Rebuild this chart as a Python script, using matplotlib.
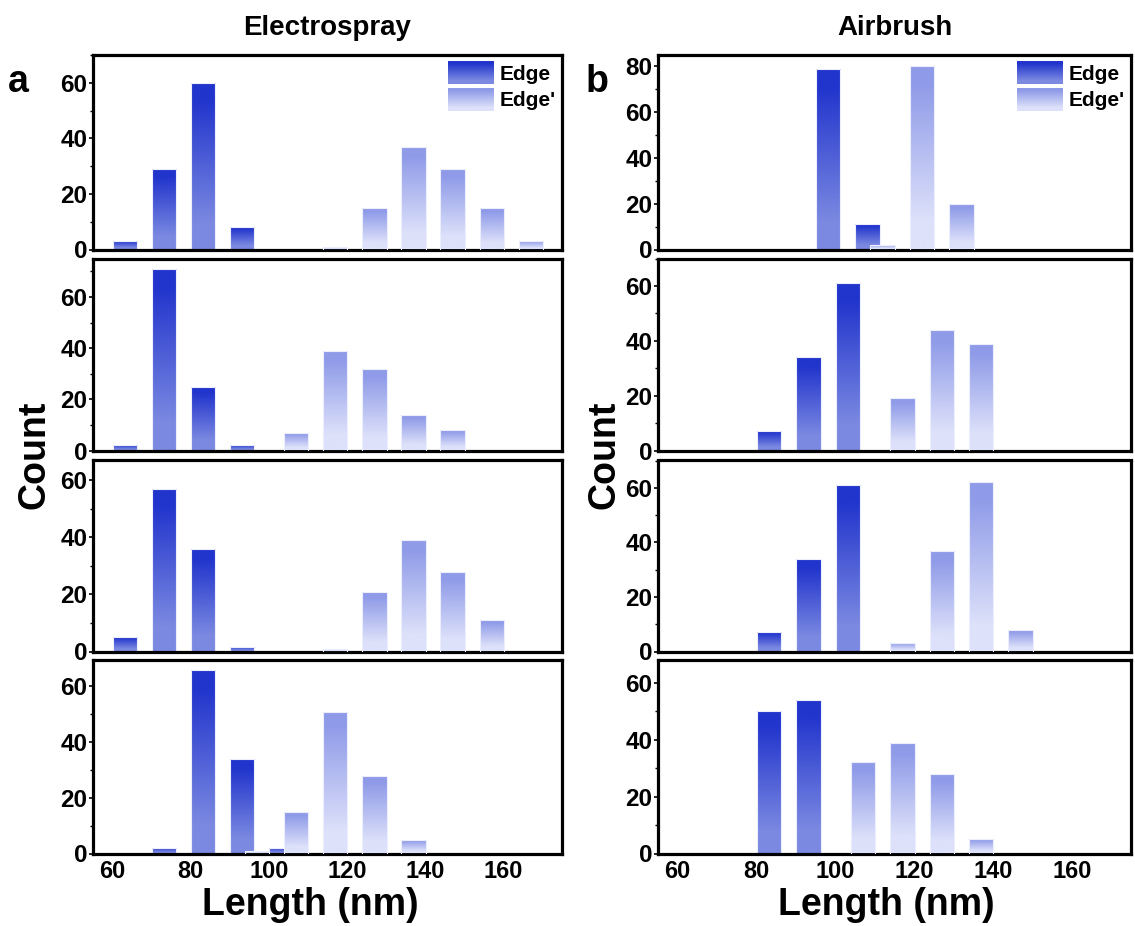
import numpy as np
import matplotlib
matplotlib.use("Agg")
import matplotlib.pyplot as plt
from matplotlib.legend_handler import HandlerBase
from matplotlib.image import BboxImage
from matplotlib.transforms import Bbox, TransformedBbox
from matplotlib.patches import Patch
from matplotlib.ticker import MultipleLocator
import matplotlib.colors as mcolors

plt.rcParams['font.family'] = ['Liberation Sans', 'DejaVu Sans']
plt.rcParams['font.weight'] = 'bold'

# ---- data (bin start in nm, counts) ----
# Electrospray (column a), top to bottom
es_edge_bins = [[60, 70, 80, 90], [60, 70, 80, 90], [60, 70, 80, 90], [70, 80, 90, 100]]
es_edge_vals = [[3, 29, 60, 8], [2, 71, 25, 2], [5, 57, 36, 1.5], [2, 66, 34, 2]]
es_edgep_bins = [[110, 120, 130, 140, 150, 160], [100, 110, 120, 130, 140],
                 [110, 120, 130, 140, 150], [90, 100, 110, 120, 130]]
es_edgep_vals = [[1, 15, 37, 29, 15, 3], [7, 39, 32, 14, 8],
                 [1, 21, 39, 28, 11], [1, 15, 51, 28, 5]]
es_ylim = [70, 75, 67, 69.5]

# Airbrush (column b), top to bottom
ab_edge_bins = [[95, 105], [80, 90, 100], [80, 90, 100], [80, 90]]
ab_edge_vals = [[79, 11], [7, 34, 61], [7, 34, 61], [50, 54]]
ab_edgep_bins = [[105, 115, 125], [110, 120, 130], [110, 120, 130, 140], [100, 110, 120, 130]]
ab_edgep_vals = [[2, 80, 20], [19, 44, 39], [3, 37, 62, 8], [32, 39, 28, 5]]
ab_ylim = [85, 70, 70, 68]

edge_cols = ('#2134cc', '#7b89e1')
edgep_cols = ('#8f9be8', '#dde1fa')
bar_w = 6.2
narrow = ['Liberation Sans Narrow', 'Liberation Sans', 'DejaVu Sans']


def grad(cols, n=128):
    c0 = np.array(mcolors.to_rgb(cols[0]))
    c1 = np.array(mcolors.to_rgb(cols[1]))
    t = np.linspace(0, 1, n)
    t = np.clip((t - 0.1) / 0.75, 0, 1)
    return (c0[None, :] * (1 - t[:, None]) + c1[None, :] * t[:, None])[:, None, :]


def grad_bars(ax, x, h, cols, z):
    bars = ax.bar(x, h, width=bar_w, facecolor='none', edgecolor='#eceefd',
                  linewidth=0.8, zorder=z + 0.1)
    g = grad(cols)
    for b in bars:
        x0, w, hh = b.get_x(), b.get_width(), b.get_height()
        if hh <= 0:
            continue
        im = ax.imshow(g, extent=[x0, x0 + w, 0, hh], aspect='auto',
                       origin='upper', zorder=z, interpolation='bilinear')
        im.set_clip_path(b)


class GradHandler(HandlerBase):
    def __init__(self, cols):
        super().__init__()
        self.cols = cols

    def create_artists(self, legend, orig_handle, xdescent, ydescent,
                       width, height, fontsize, trans):
        bb = Bbox.from_bounds(-xdescent, -ydescent, width, height)
        img = BboxImage(TransformedBbox(bb, trans), interpolation='bilinear')
        img.set_data(grad(self.cols))
        return [img]


W, H = 1135, 926
fig = plt.figure(figsize=(W / 100, H / 100), dpi=100)

rows = [(55, 249.5), (258.5, 450.5), (460.5, 651.5), (660, 853.5)]
cols_px = [(93, 562), (658, 1131)]

sets = [
    (es_edge_bins, es_edge_vals, es_edgep_bins, es_edgep_vals, es_ylim),
    (ab_edge_bins, ab_edge_vals, ab_edgep_bins, ab_edgep_vals, ab_ylim),
]

for ci, (eb, ev, pb, pv, yl) in enumerate(sets):
    x0, x1 = cols_px[ci]
    for ri, (t, b) in enumerate(rows):
        ax = fig.add_axes([x0 / W, 1 - b / H, (x1 - x0) / W, (b - t) / H])
        grad_bars(ax, np.array(eb[ri]) + 3.2, ev[ri], edge_cols, 2)
        grad_bars(ax, np.array(pb[ri]) + 7.0, pv[ri], edgep_cols, 3)
        ax.set_xlim(55, 175)
        ax.set_ylim(0, yl[ri])
        ax.yaxis.set_major_locator(MultipleLocator(20))
        ax.yaxis.set_minor_locator(MultipleLocator(10))
        ax.xaxis.set_major_locator(MultipleLocator(20))
        for s in ax.spines.values():
            s.set_linewidth(2.3)
        ax.tick_params(axis='y', which='major', direction='out', length=3,
                       width=1.2, labelsize=17.5, pad=1)
        ax.tick_params(axis='y', which='minor', direction='out', length=2, width=1)
        ax.tick_params(axis='x', which='both', length=0, labelsize=17, pad=5)
        for lab in ax.get_yticklabels():
            lab.set_family(narrow)
        if ri < 3:
            ax.set_xticklabels([])
        if ri == 0:
            h1, h2 = Patch(label='Edge'), Patch(label="Edge'")
            ax.legend([h1, h2], ['Edge', "Edge'"],
                      handler_map={h1: GradHandler(edge_cols), h2: GradHandler(edgep_cols)},
                      loc='upper right', frameon=False, fontsize=15,
                      handlelength=2.2, handleheight=1.3, labelspacing=0.2,
                      handletextpad=0.3, borderaxespad=0.2, borderpad=0.1)

fig.text(327 / W, 1 - 28 / H, 'Electrospray', ha='center', va='center', fontsize=20)
fig.text(895 / W, 1 - 28 / H, 'Airbrush', ha='center', va='center', fontsize=20)
fig.text(18 / W, 1 - 82 / H, 'a', ha='center', va='center', fontsize=27)
fig.text(597 / W, 1 - 82 / H, 'b', ha='center', va='center', fontsize=27)
fig.text(34 / W, 1 - 455 / H, 'Count', ha='center', va='center', rotation=90, fontsize=27)
fig.text(605 / W, 1 - 455 / H, 'Count', ha='center', va='center', rotation=90, fontsize=27)
fig.text(310 / W, 1 - 905 / H, 'Length (nm)', ha='center', va='center', fontsize=27)
fig.text(886 / W, 1 - 905 / H, 'Length (nm)', ha='center', va='center', fontsize=27)

fig.savefig('out.png', dpi=100)
